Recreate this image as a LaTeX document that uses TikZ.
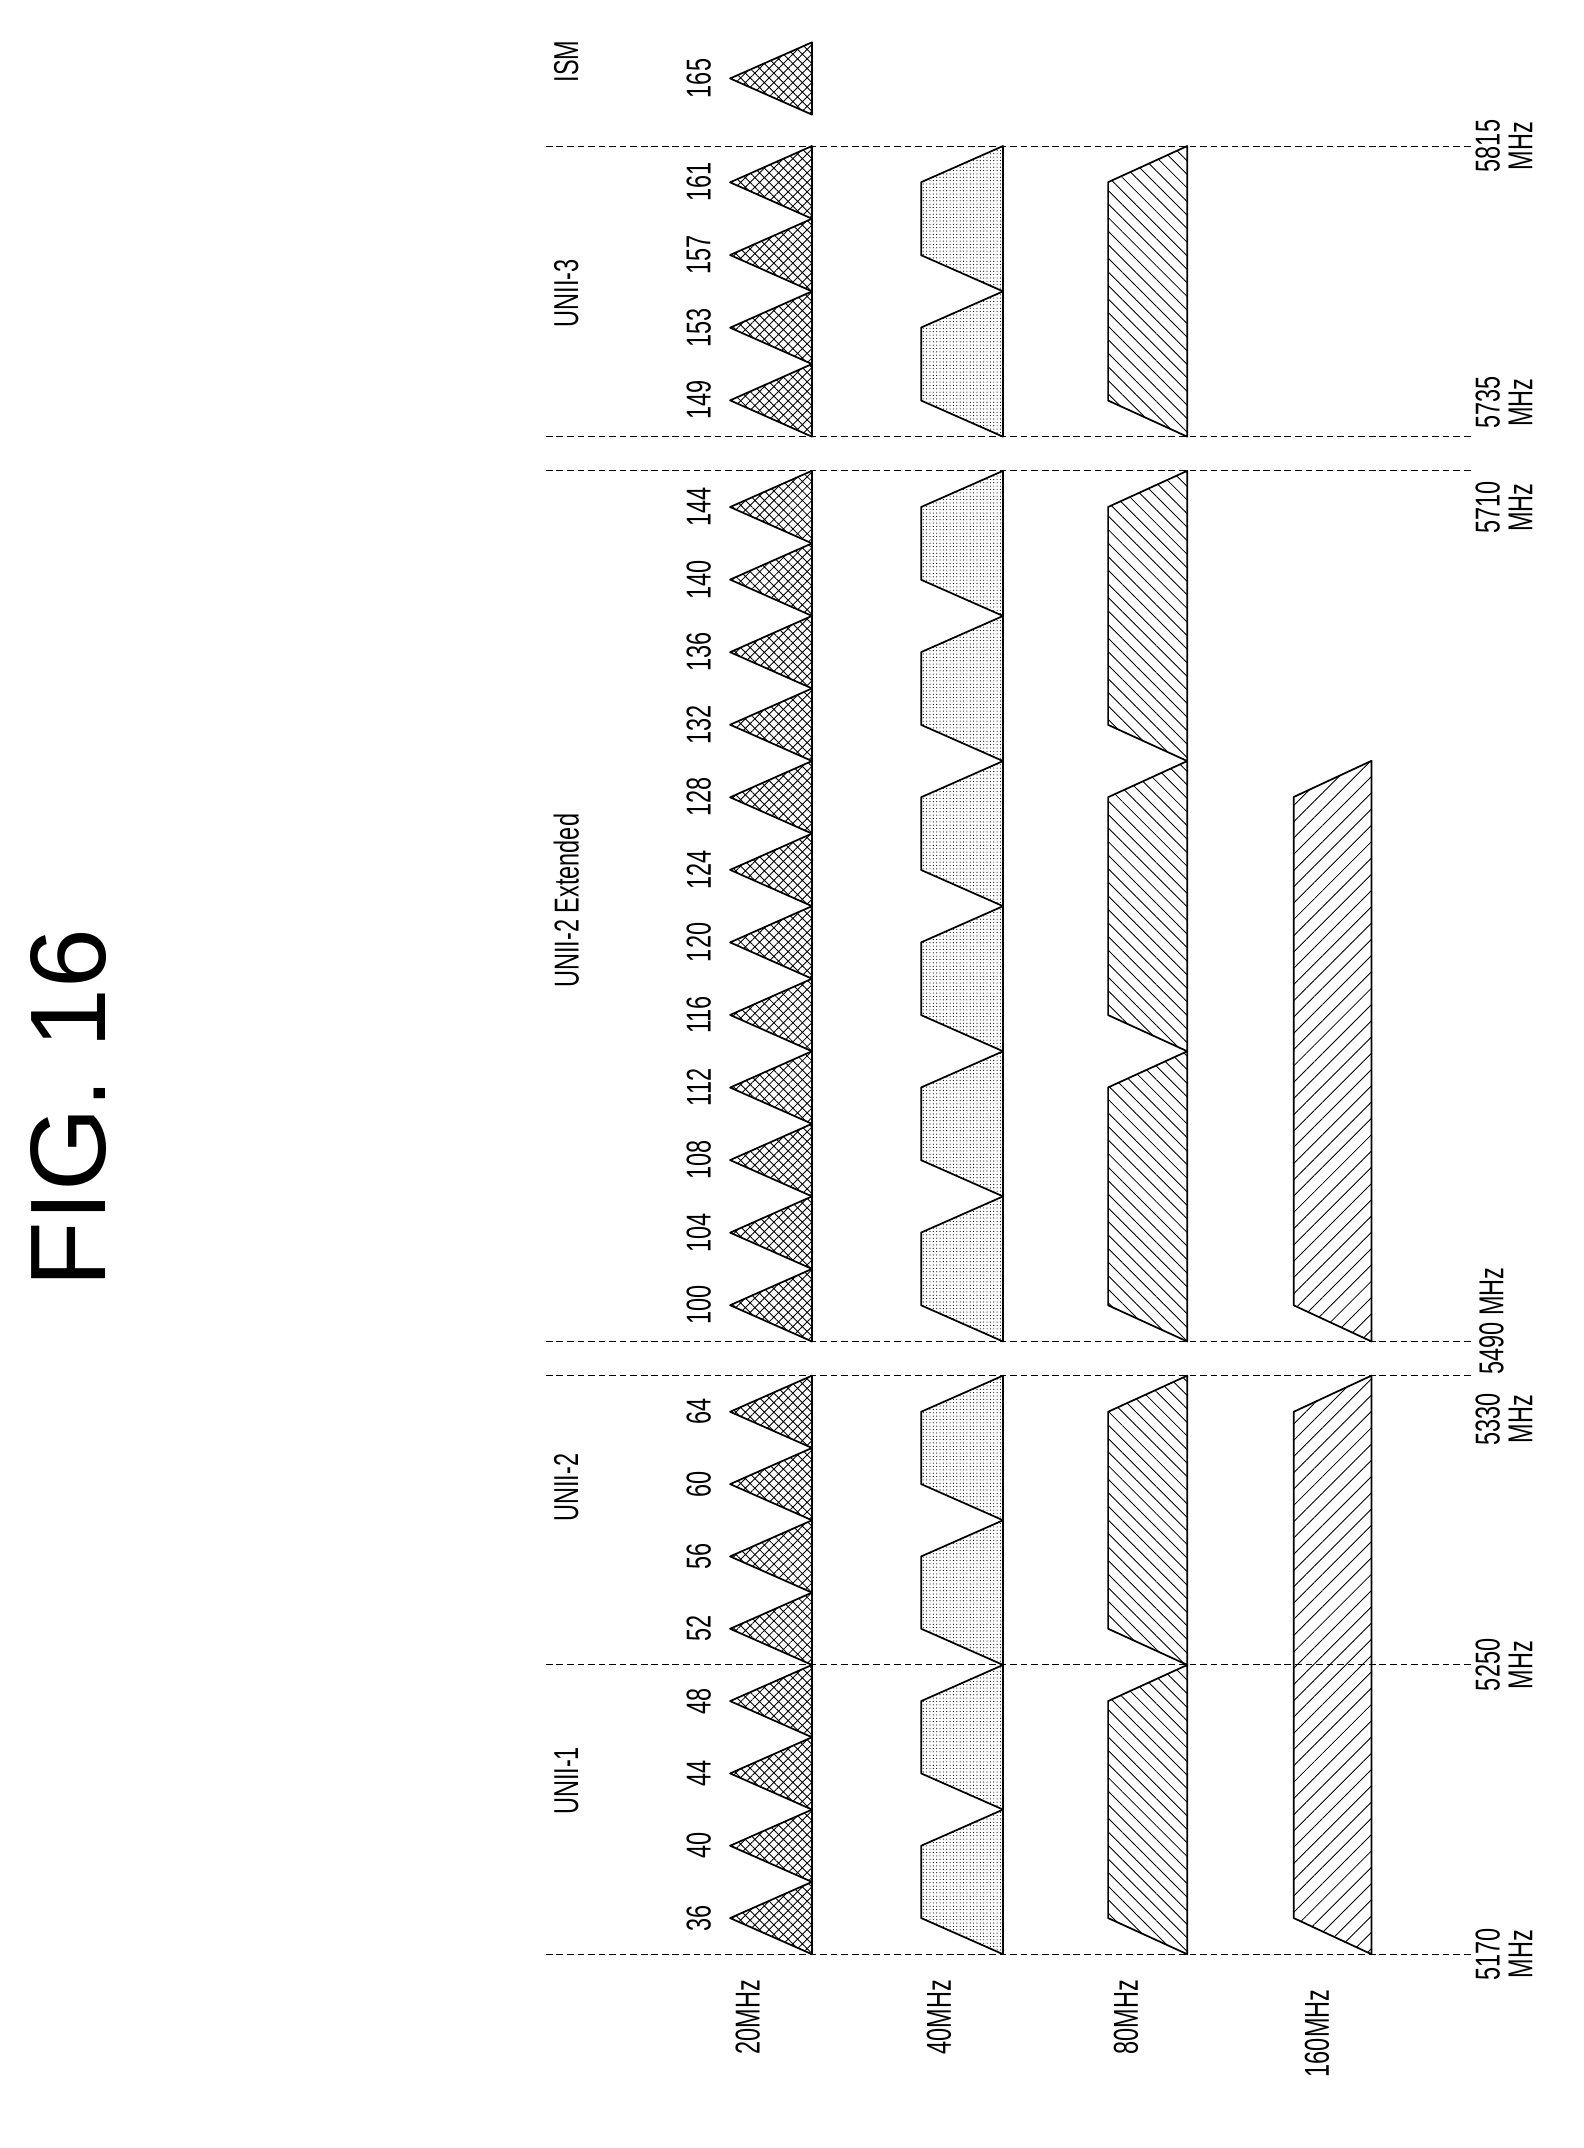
\documentclass[tikz,border=0pt]{standalone}
\usepackage{fontspec}
\setmainfont{Liberation Sans}
\usetikzlibrary{patterns.meta}
\newcommand{\cnd}[1]{\scalebox{0.68}[1]{#1}}
\begin{document}
\begin{tikzpicture}[x=0.05cm,y=-0.05cm,
  sh/.style={draw=black,line width=1.8pt,line join=round},
  tri/.style={sh,pattern={Hatch[angle=45,distance=7pt,line width=0.9pt]}},
  dot/.style={sh,pattern={Dots[distance=3.5pt,radius=0.6pt]},pattern color=black},
  hat/.style={sh,pattern={Lines[angle=-45,distance=10pt,line width=0.9pt]}},
  hatb/.style={sh,pattern={Lines[angle=45,distance=12pt,line width=0.9pt]}},
  dl/.style={draw=black,dash pattern=on 7pt off 4pt,line width=1pt},
  lab/.style={rotate=90,font=\fontsize{36}{38}\selectfont,inner sep=0pt},
  flab/.style={rotate=90,font=\fontsize{36}{34}\selectfont,align=center,inner sep=0pt}]
\useasboundingbox (0,0) rectangle (1160,1574);
\node[rotate=90,font=\fontsize{112}{112}\selectfont] (title) at (50,812) {FIG. 16};
\foreach \y in {1432,1220,1008,983,345,320,107}{
  \draw[dl] (400,\y) -- (1080,\y);
}
\node[flab] (f5170) at (1102,1432) {\cnd{5170}\\\cnd{MHz}};
\node[flab] (f5250) at (1102,1220) {\cnd{5250}\\\cnd{MHz}};
\node[flab] (f5330) at (1102,1040) {\cnd{5330}\\\cnd{MHz}};
\node[flab,anchor=south] (f5490) at (1102,968) {\cnd{5490 MHz}};
\node[flab] (f5710) at (1102,372) {\cnd{5710}\\\cnd{MHz}};
\node[flab] (f5735) at (1102,295) {\cnd{5735}\\\cnd{MHz}};
\node[flab] (f5815) at (1102,107) {\cnd{5815}\\\cnd{MHz}};
\node[lab] (u1) at (415,1305) {\cnd{UNII-1}};
\node[lab] (u2) at (415,1090) {\cnd{UNII-2}};
\node[lab] (u2e) at (415,660) {\cnd{UNII-2 Extended}};
\node[lab] (u3) at (415,215) {\cnd{UNII-3}};
\node[lab] (ism) at (415,45) {\cnd{ISM}};
\node[lab] (r20) at (548,1478) {\cnd{20MHz}};
\node[lab] (r40) at (688,1478) {\cnd{40MHz}};
\node[lab] (r80) at (825,1478) {\cnd{80MHz}};
\node[lab] (r160) at (965,1490) {\cnd{160MHz}};
\foreach \s/\n/\c/\st in {1432/8/36/53, 983/12/100/53.17, 320/4/149/53.25}{
  \pgfmathtruncatemacro\last{\n-1}
  \foreach \i in {0,...,\last}{
    \pgfmathsetmacro\b{\s-\st*\i}
    \pgfmathtruncatemacro\ch{\c+4*\i}
    \draw[tri] (595,\b) -- (535,\b-\st/2) -- (595,\b-\st) -- cycle;
    \node[lab] (c\ch) at (512,\b-\st/2) {\cnd{\ch}};
  }
}
\draw[tri] (595,84) -- (535,57.5) -- (595,31) -- cycle;
\node[lab] (c165) at (512,57.5) {\cnd{165}};
\foreach \s/\n/\st in {1432/4/106, 983/6/106.33, 320/2/106.5}{
  \pgfmathtruncatemacro\last{\n-1}
  \foreach \i in {0,...,\last}{
    \pgfmathsetmacro\b{\s-\st*\i}
    \draw[dot] (735,\b) -- (675,\b-26.5) -- (675,\b-\st+26.5) -- (735,\b-\st) -- cycle;
  }
}
\foreach \s/\n/\st in {1432/2/212, 983/3/212.67, 320/1/213}{
  \pgfmathtruncatemacro\last{\n-1}
  \foreach \i in {0,...,\last}{
    \pgfmathsetmacro\b{\s-\st*\i}
    \draw[hat] (870,\b) -- (812,\b-26.5) -- (812,\b-\st+26.5) -- (870,\b-\st) -- cycle;
  }
}
\draw[hatb] (1005,1432) -- (948,1405.5) -- (948,1034.5) -- (1005,1008) -- cycle;
\draw[hatb] (1005,983) -- (948,956.5) -- (948,584) -- (1005,557.5) -- cycle;
\end{tikzpicture}
\end{document}
